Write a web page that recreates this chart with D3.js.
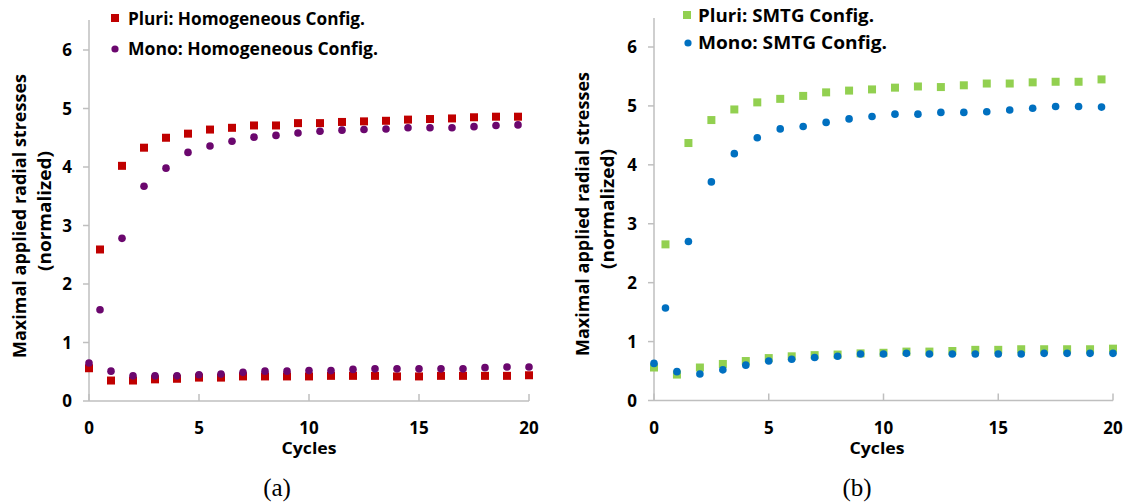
<!DOCTYPE html>
<html><head><meta charset="utf-8">
<script src="https://cdn.jsdelivr.net/npm/d3@7"></script>
<style>
html,body{margin:0;padding:0;background:#fff;}
svg text{font-family:"Open Sans","DejaVu Sans",sans-serif;font-weight:700;fill:#000;}
</style></head>
<body>
<svg id="chart" width="1131" height="503"></svg>
<script>
// ---------- data ----------
const cyclesHalf = [0.5,1.5,2.5,3.5,4.5,5.5,6.5,7.5,8.5,9.5,10.5,11.5,12.5,13.5,14.5,15.5,16.5,17.5,18.5,19.5];
const cyclesInt  = [0,1,2,3,4,5,6,7,8,9,10,11,12,13,14,15,16,17,18,19,20];

const pluriHomPeak   = [2.59,4.02,4.33,4.50,4.57,4.64,4.67,4.71,4.71,4.75,4.75,4.77,4.78,4.79,4.81,4.82,4.83,4.85,4.86,4.86];
const monoHomPeak    = [1.56,2.78,3.67,3.98,4.25,4.36,4.44,4.51,4.54,4.58,4.61,4.63,4.64,4.65,4.67,4.67,4.67,4.69,4.71,4.72];
const pluriHomLow    = [0.56,0.35,0.35,0.37,0.38,0.40,0.40,0.42,0.42,0.42,0.42,0.43,0.43,0.43,0.42,0.42,0.43,0.43,0.43,0.43,0.44];
const monoHomLow     = [0.65,0.51,0.43,0.43,0.43,0.45,0.46,0.49,0.51,0.51,0.52,0.52,0.54,0.55,0.55,0.55,0.55,0.55,0.57,0.58,0.58];

const pluriSmtgPeak  = [2.65,4.37,4.76,4.94,5.06,5.12,5.17,5.23,5.26,5.28,5.31,5.33,5.32,5.35,5.38,5.38,5.40,5.41,5.41,5.45];
const monoSmtgPeak   = [1.57,2.70,3.71,4.19,4.46,4.61,4.65,4.72,4.78,4.82,4.86,4.86,4.89,4.89,4.90,4.93,4.96,4.99,4.99,4.98];
const pluriSmtgLow   = [0.56,0.44,0.56,0.62,0.67,0.72,0.75,0.77,0.78,0.80,0.81,0.83,0.83,0.84,0.86,0.86,0.87,0.87,0.87,0.87,0.88];
const monoSmtgLow    = [0.63,0.49,0.45,0.52,0.60,0.67,0.70,0.73,0.75,0.79,0.79,0.80,0.79,0.79,0.79,0.79,0.79,0.80,0.80,0.80,0.80];

const xTicks = [0,5,10,15,20];
const yTicks = [0,1,2,3,4,5,6];
const yTitle1 = "Maximal applied radial stresses";
const yTitle2 = "(normalized)";
const xTitle = "Cycles";

// ---------- layout ----------
const svg = d3.select("#chart");
const panels = [
  {x0:89, x1:529, y0:401, y6:50, axisTop:20, title1X:20, title2X:45, titleY:216, xTitleX:309, caption:"(a)", capX:277,
   legend:[{label:"Pluri: Homogeneous Config.", shape:"square", color:"#C00000", mx:115, my:18, tx:128, ty:25, tl:237},
           {label:"Mono: Homogeneous Config.", shape:"circle", color:"#6B076E", mx:115, my:49, tx:128, ty:55, tl:250}],
   series:[{x:cyclesHalf, y:pluriHomPeak, shape:"square", color:"#C00000"},
           {x:cyclesInt,  y:pluriHomLow,  shape:"square", color:"#C00000"},
           {x:cyclesHalf, y:monoHomPeak,  shape:"circle", color:"#6B076E"},
           {x:cyclesInt,  y:monoHomLow,   shape:"circle", color:"#6B076E"}]},
  {x0:654, x1:1113, y0:400.5, y6:47, axisTop:18, title1X:583, title2X:608, titleY:214, xTitleX:877, caption:"(b)", capX:857,
   legend:[{label:"Pluri: SMTG Config.", shape:"square", color:"#92D050", mx:687, my:15, tx:698, ty:22, tl:176},
           {label:"Mono: SMTG Config.", shape:"circle", color:"#0070C0", mx:688, my:43, tx:698, ty:49, tl:189}],
   series:[{x:cyclesHalf, y:pluriSmtgPeak, shape:"square", color:"#92D050"},
           {x:cyclesInt,  y:pluriSmtgLow,  shape:"square", color:"#92D050"},
           {x:cyclesHalf, y:monoSmtgPeak,  shape:"circle", color:"#0070C0"},
           {x:cyclesInt,  y:monoSmtgLow,   shape:"circle", color:"#0070C0"}]}
];

const SQ = 8, R = 3.8, axisColor = "#BFBFBF";

panels.forEach(p => {
  const x = d3.scaleLinear().domain([0,20]).range([p.x0, p.x1]);
  const y = d3.scaleLinear().domain([0,6]).range([p.y0, p.y6]);
  const g = svg.append("g");

  // y axis line
  g.append("line").attr("x1", p.x0).attr("x2", p.x0).attr("y1", p.axisTop).attr("y2", p.y0)
    .attr("stroke", axisColor).attr("stroke-width", 1.5);
  // y ticks
  g.selectAll(".yt").data(yTicks).enter().append("line")
    .attr("x1", p.x0 - 6).attr("x2", p.x0).attr("y1", d => y(d)).attr("y2", d => y(d))
    .attr("stroke", axisColor).attr("stroke-width", 1.5);
  g.selectAll(".yl").data(yTicks).enter().append("text")
    .attr("x", p.x0 - 17).attr("y", d => y(d)).attr("dy", "0.36em")
    .attr("text-anchor", "end").style("font-size", "17px").text(d => d);

  // x axis line
  g.append("line").attr("x1", p.x0).attr("x2", p.x1).attr("y1", p.y0).attr("y2", p.y0)
    .attr("stroke", axisColor).attr("stroke-width", 1.5);
  g.selectAll(".xt").data(xTicks).enter().append("line")
    .attr("x1", d => x(d)).attr("x2", d => x(d)).attr("y1", p.y0 - 7).attr("y2", p.y0)
    .attr("stroke", axisColor).attr("stroke-width", 1.5);
  g.selectAll(".xl").data(xTicks).enter().append("text")
    .attr("x", d => x(d)).attr("y", p.y0 + 33)
    .attr("text-anchor", "middle").style("font-size", "17px").text(d => d);

  // titles
  g.append("text").attr("x", p.xTitleX).attr("y", p.y0 + 53).attr("text-anchor", "middle")
    .style("font-size", "16px").attr("textLength", 55).attr("lengthAdjust", "spacingAndGlyphs").text(xTitle);
  g.append("text").attr("transform", `translate(${p.title1X},${p.titleY}) rotate(-90)`)
    .attr("text-anchor", "middle").attr("dy", "0.36em").style("font-size", "17px")
    .attr("textLength", 284).attr("lengthAdjust", "spacingAndGlyphs").text(yTitle1);
  g.append("text").attr("transform", `translate(${p.title2X},${p.titleY - 5}) rotate(-90)`)
    .attr("text-anchor", "middle").attr("dy", "0.36em").style("font-size", "17px")
    .attr("textLength", 120).attr("lengthAdjust", "spacingAndGlyphs").text(yTitle2);

  // caption
  g.append("text").attr("x", p.capX).attr("y", 496).attr("text-anchor", "middle")
    .style("font-family", "'Liberation Serif','DejaVu Serif',serif").style("font-weight", "400")
    .style("font-size", "25px").text(p.caption);

  // markers: squares first, circles on top
  const pts = s => s.y.map((v, i) => ({cx: s.x[i], cy: v, color: s.color}));
  p.series.filter(s => s.shape === "square").forEach(s => {
    g.selectAll(null).data(pts(s)).enter().append("rect")
      .attr("x", d => x(d.cx) - SQ/2).attr("y", d => y(d.cy) - SQ/2)
      .attr("width", SQ).attr("height", SQ).attr("fill", d => d.color);
  });
  p.series.filter(s => s.shape === "circle").forEach(s => {
    g.selectAll(null).data(pts(s)).enter().append("circle")
      .attr("cx", d => x(d.cx)).attr("cy", d => y(d.cy)).attr("r", R).attr("fill", d => d.color);
  });

  // legend
  p.legend.forEach(l => {
    if (l.shape === "square") {
      g.append("rect").attr("x", l.mx - 4).attr("y", l.my - 4).attr("width", 8).attr("height", 8).attr("fill", l.color);
    } else {
      g.append("circle").attr("cx", l.mx).attr("cy", l.my).attr("r", 3.6).attr("fill", l.color);
    }
    g.append("text").attr("x", l.tx).attr("y", l.ty).style("font-size", "18px")
      .attr("textLength", l.tl).attr("lengthAdjust", "spacingAndGlyphs").text(l.label);
  });
});
</script>
</body></html>
